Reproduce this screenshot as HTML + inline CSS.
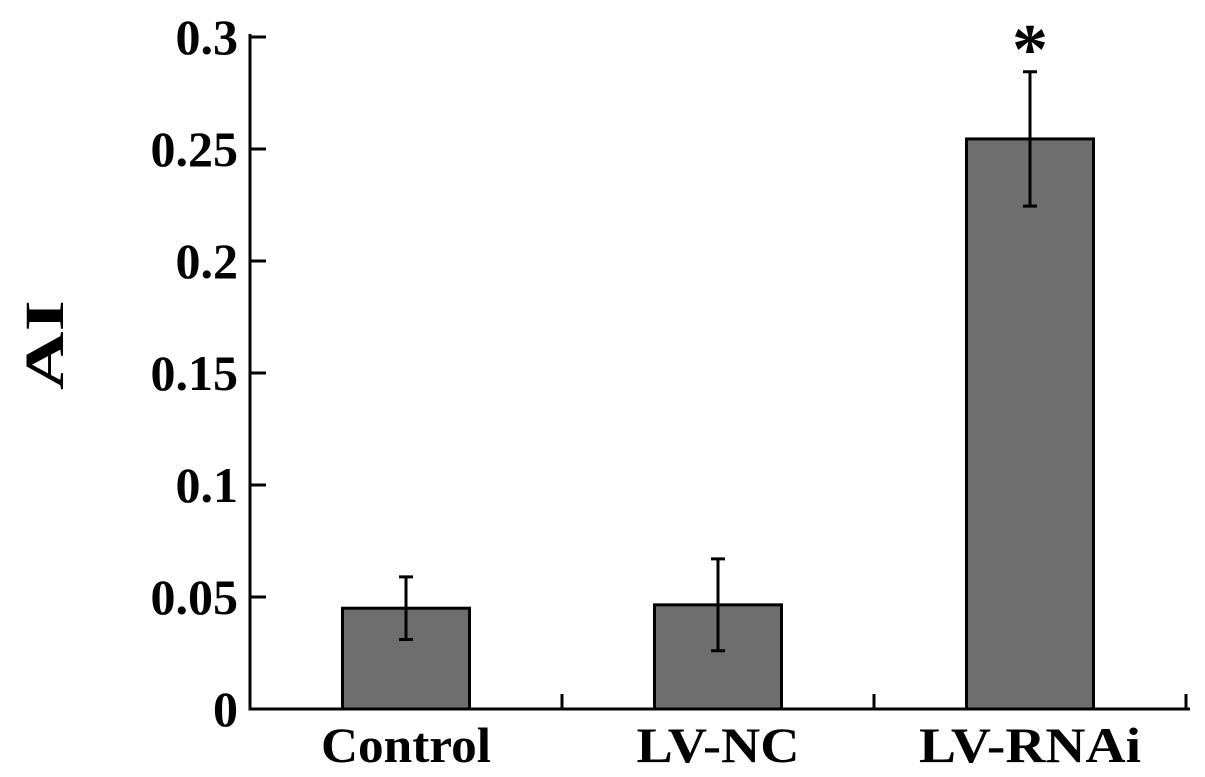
<!DOCTYPE html>
<html><head><meta charset="utf-8"><style>
body{margin:0;background:#fff;}
svg{display:block;font-family:"Liberation Serif",serif;font-weight:bold;}
</style></head><body>
<svg id="chart" width="1205" height="777" viewBox="0 0 1205 777" xmlns="http://www.w3.org/2000/svg"></svg>
<script>
const categories = ["Control", "LV-NC", "LV-RNAi"];
const values = [0.045, 0.0465, 0.2545];
const errors = [0.014, 0.0205, 0.03];
const significance = ["", "", "*"];
const yTicks = [0, 0.05, 0.1, 0.15, 0.2, 0.25, 0.3];
const yTickLabels = ["0", "0.05", "0.1", "0.15", "0.2", "0.25", "0.3"];

const labelWidthPx = {"Control": 170, "LV-NC": 163, "LV-RNAi": 222};
const NS = "http://www.w3.org/2000/svg";
const svg = document.getElementById("chart");
const x0 = 250, x1 = 1186, y0 = 709, y1 = 37, yMax = 0.3;
const band = (x1 - x0) / categories.length;
const barW = 127;
function yScale(v){ return y0 - (v / yMax) * (y0 - y1); }
function xCenter(i){ return x0 + band * (i + 0.5); }
function mk(tag, attrs){ const e = document.createElementNS(NS, tag); for (const k in attrs) e.setAttribute(k, attrs[k]); svg.appendChild(e); return e; }

categories.forEach((c, i) => {
  const cx = xCenter(i), top = yScale(values[i]);
  const r = mk("rect", {x: cx - barW/2, y: top, width: barW, height: y0 - top, fill: "#6e6e6e", stroke: "#000", "stroke-width": 3});
  
  
  const eh = yScale(values[i] + errors[i]), el = yScale(values[i] - errors[i]);
  const g = mk("path", {d: `M${cx},${eh}V${el}M${cx-7},${eh}H${cx+7}M${cx-7},${el}H${cx+7}`, stroke: "#000", "stroke-width": 3, fill: "none"});
  
  
  if (significance[i]) {
    const s = mk("text", {x: cx, y: eh + 2, "text-anchor": "middle", "font-size": 72});
    s.textContent = significance[i];
    
    
  }
  const t = mk("text", {x: cx, y: 762, "text-anchor": "middle", "font-size": 50});
  t.textContent = c;
  t.setAttribute('textLength', labelWidthPx[c] || c.length * 24);
  t.setAttribute('lengthAdjust', 'spacingAndGlyphs');
  
  
});

const ax = mk("path", {d: `M${x0},${y1-3}V${y0}H${x1+4}`, stroke: "#000", "stroke-width": 3, fill: "none"});


for (let i = 1; i <= categories.length; i++) {
  const xt = x0 + band * i;
  const tk = mk("line", {x1: xt, x2: xt, y1: y0, y2: y0 - 15, stroke: "#000", "stroke-width": 3});
  
  
}
yTicks.forEach((v, i) => {
  const y = yScale(v);
  const tk = mk("line", {x1: x0, x2: x0 + 16, y1: y, y2: y, stroke: "#000", "stroke-width": 3});
  
  
  const t = mk("text", {x: 238, y: y + 17, "text-anchor": "end", "font-size": 50});
  t.textContent = yTickLabels[i];
  
  
});
const yl = mk("text", {x: 0, y: 0, "text-anchor": "middle", "font-size": 55, transform: "translate(63,345) rotate(-90)", textLength: 90, lengthAdjust: "spacingAndGlyphs"});
yl.textContent = "AI";


</script>
</body></html>
